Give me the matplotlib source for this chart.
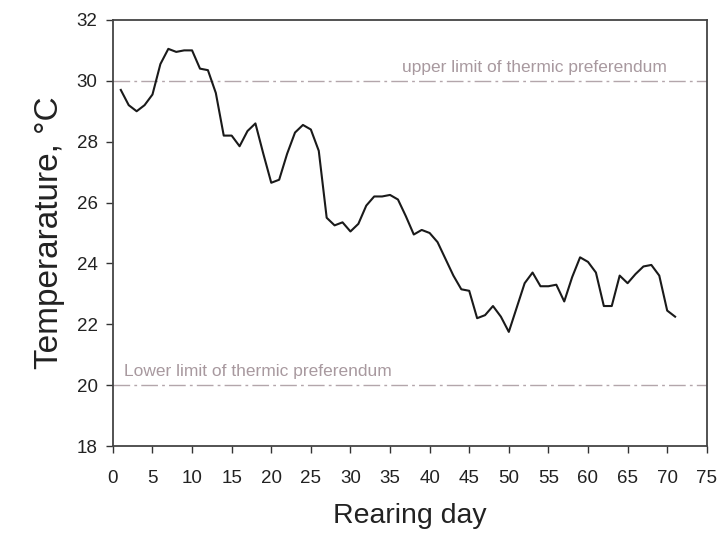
import matplotlib
matplotlib.use("Agg")
import matplotlib.pyplot as plt

plt.rcParams['font.family'] = ['Liberation Sans', 'DejaVu Sans']

days = list(range(1, 72))
temps = [29.7, 29.2, 29.0, 29.2, 29.55, 30.55, 31.05, 30.95, 31.0, 31.0,
         30.4, 30.35, 29.6, 28.2, 28.2, 27.85, 28.35, 28.6, 27.6, 26.65,
         26.75, 27.6, 28.3, 28.55, 28.4, 27.7, 25.5, 25.25, 25.35, 25.05,
         25.3, 25.9, 26.2, 26.2, 26.25, 26.1, 25.55, 24.95, 25.1, 25.0,
         24.7, 24.15, 23.6, 23.15, 23.1, 22.2, 22.3, 22.6, 22.25, 21.75,
         22.55, 23.35, 23.7, 23.25, 23.25, 23.3, 22.75, 23.55, 24.2, 24.05,
         23.7, 22.6, 22.6, 23.6, 23.35, 23.65, 23.9, 23.95, 23.6, 22.45,
         22.25]
upper_limit = 30
lower_limit = 20
upper_label = "upper limit of thermic preferendum"
lower_label = "Lower limit of thermic preferendum"
xticks = list(range(0, 76, 5))
yticks = list(range(18, 33, 2))

fig = plt.figure(figsize=(7.19, 5.39), dpi=100)
ax = fig.add_axes([0.157, 0.1725, 0.826, 0.7905])

ref_color = '#b3a6ab'
ax.axhline(upper_limit, color=ref_color, lw=1.0, dashes=(12, 3, 2, 3))
ax.axhline(lower_limit, color=ref_color, lw=1.0, dashes=(12, 3, 2, 3))
ax.text(70, upper_limit + 0.2, upper_label, color='#a8999f', fontsize=12.5,
        ha='right', va='bottom')
ax.text(1.4, lower_limit + 0.2, lower_label, color='#a8999f', fontsize=12.5,
        ha='left', va='bottom')

ax.plot(days, temps, color='#1a1a1a', lw=1.5)

ax.set_xlim(0, 75)
ax.set_ylim(18, 32)
ax.set_xticks(xticks)
ax.set_yticks(yticks)
ax.tick_params(axis='both', direction='out', length=5, width=1.0,
               color='#333333', labelsize=13.5, labelcolor='#222222')
ax.tick_params(axis='x', pad=12)
ax.tick_params(axis='y', pad=6)
for s in ax.spines.values():
    s.set_color('#444444')
    s.set_linewidth(1.3)

ax.set_xlabel('Rearing day', fontsize=20.5, color='#222222', labelpad=12)
ax.set_ylabel('Temperarature, °C', fontsize=24, color='#222222', labelpad=8)

fig.savefig('out.png', dpi=100)
